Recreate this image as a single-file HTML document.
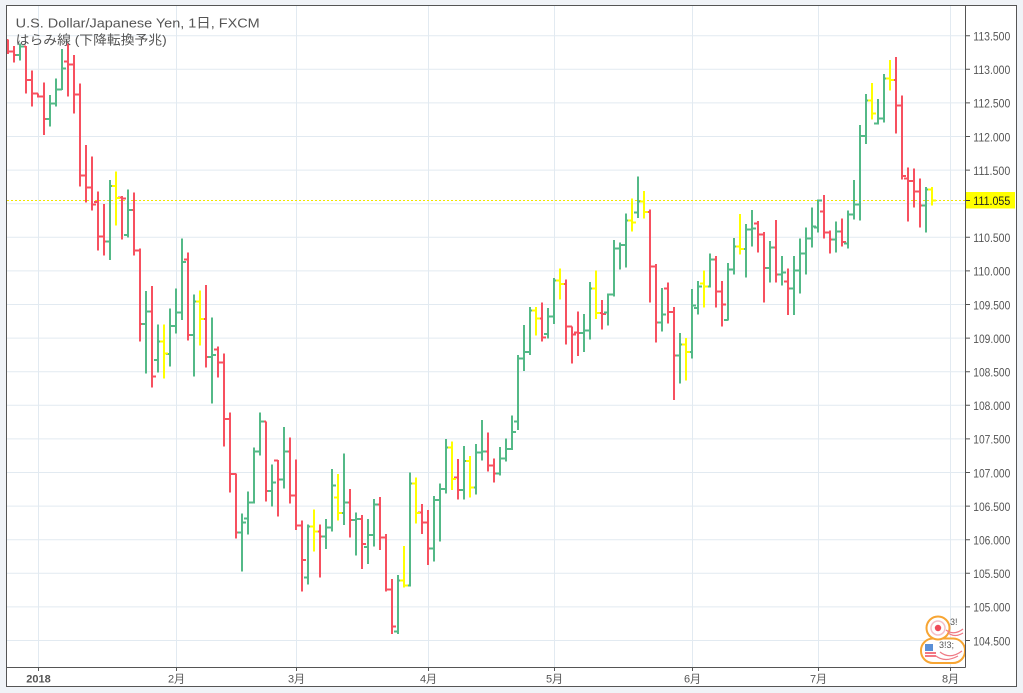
<!DOCTYPE html>
<html><head><meta charset="utf-8">
<style>
html,body{margin:0;padding:0;background:#f0f3f7;}
svg{display:block;}
</style></head>
<body>
<svg width="1023" height="693" viewBox="0 0 1023 693" xmlns="http://www.w3.org/2000/svg">
<defs>
<clipPath id="plot"><rect x="7" y="6" width="958" height="661"/></clipPath>
</defs>
<rect x="0" y="0" width="1023" height="693" fill="#f0f3f7"/>
<rect x="6.5" y="5.5" width="1010" height="681" fill="#ffffff" stroke="#555555" stroke-width="1"/>

<g stroke="#e2eaf1" stroke-width="1" fill="none">
<path d="M7 35.7H965M7 69.3H965M7 102.9H965M7 136.5H965M7 170.1H965M7 203.7H965M7 237.3H965M7 270.9H965M7 304.5H965M7 338.1H965M7 371.7H965M7 405.3H965M7 438.9H965M7 472.5H965M7 506.1H965M7 539.7H965M7 573.3H965M7 606.9H965M7 640.5H965"/>
<path d="M38.5 6V667M176.5 6V667M296.5 6V667M428.5 6V667M554.5 6V667M692.5 6V667M818.5 6V667M950.5 6V667"/>
</g>

<line x1="7" y1="200.5" x2="965" y2="200.5" stroke="#f2e600" stroke-width="1" stroke-dasharray="2,2"/>

<g clip-path="url(#plot)" fill="none" stroke-width="2" stroke-linecap="butt">
<path stroke="#f7505f" d="M8 39.5V54M4 40H8M8 51.5H12M14 46V62.5M10 51.5H14M14 55H18M26 46V93.5M22 46.5H26M26 80H30M32 70.5V106.5M28 80H32M32 93.5H36M38 93.5V97.5M34 93.5H38M38 96.5H42M44 82.5V135M40 96.5H44M44 119H48M68 43.5V96.5M64 61.5H68M68 64.5H72M74 55V113.5M70 64.5H74M74 94.5H78M80 83.5V186.5M76 94.5H80M80 175.5H84M86 145V202.5M82 175.5H86M86 187.5H90M92 156.5V210.5M88 187.5H92M92 204.5H96M98 191.5V250.5M94 202H98M98 236.5H102M104 204V255.5M100 236.5H104M104 241.5H108M122 196V239.5M118 197.5H122M122 198.5H126M134 192.5V255.5M130 210H134M134 250.5H138M140 248.5V341.5M136 250.5H140M140 324H144M152 286V387.5M148 311.5H152M152 376.5H156M188 252.5V340.5M184 259.5H188M188 335H192M206 285V367.5M202 319H206M206 357H210M218 346.5V377.5M214 349.5H218M218 362.5H222M224 353.5V446.5M220 362.5H224M224 419H228M230 412.5V492.5M226 419H230M230 474H234M236 473.5V538.5M232 474H236M236 532.5H240M266 421.5V501.5M262 421.5H266M266 491H270M278 460V516.5M274 460.5H278M278 479.5H282M290 437.5V503.5M286 451.5H290M290 495.5H294M296 459.5V530M292 495.5H296M296 525.5H300M302 520.5V591.5M298 525.5H302M302 560H306M320 524.5V577.5M316 531.5H320M320 536.5H324M350 489V537.5M346 502.5H350M350 520H354M362 515V569M358 519H362M362 544H366M380 497V550M376 504.5H380M380 537.5H384M386 534V591.5M382 537.5H386M386 589.5H390M392 579V634M388 589.5H392M392 626.5H396M422 504V534M418 512.5H422M422 522.5H426M428 510V565M424 522.5H428M428 548.5H432M458 459V499.5M454 477.5H458M458 490H462M488 432.5V471.5M484 451.5H488M488 465.5H492M494 458.5V482.5M490 465.5H494M494 473.5H498M542 302.5V341.5M538 318.5H542M542 337.5H546M566 279.5V344.5M562 284H566M566 326.5H570M572 326.5V363.5M568 326.5H572M572 334.5H576M578 311.5V356M574 332.5H578M578 333H582M602 300V329.5M598 313H602M602 314H606M650 209.5V302.5M646 212H650M650 266.5H654M656 264V342.5M652 266.5H656M656 322.5H660M668 282.5V323.5M664 288.5H668M668 312H672M674 307V400M670 312H674M674 355.5H678M716 256V307.5M712 259.5H716M716 291.5H720M722 281V326.5M718 291.5H722M722 304.5H726M758 221V252.5M754 223.5H758M758 234.5H762M764 232V302.5M760 234.5H764M764 268H768M776 220V282.5M772 247.5H776M776 274.5H780M788 268.5V315M784 281.5H788M788 288.5H792M824 195V238.5M820 211.5H824M824 232.5H828M830 230.5V253.5M826 232.5H830M830 239.5H834M842 218.5V246.5M838 231.5H842M842 242H846M896 57V133.5M892 80H896M896 105.5H900M902 95.5V179.5M898 105.5H902M902 176H906M908 167.5V221.5M904 178.5H908M908 181H912M914 168.5V207.5M910 181H914M914 191.5H918M920 178.5V227.5M916 191.5H920M920 205.5H924"/>
<path stroke="#53b987" d="M20 43.5V60.5M16 55H20M20 46.5H24M50 95V126.5M46 119H50M50 103.5H54M56 78.5V106.5M52 103.5H56M56 89.5H60M62 49V90M58 89.5H62M62 68.5H66M110 180V260M106 241.5H110M110 186H114M128 189.5V237.5M124 235H128M128 210H132M146 291V373.5M142 324H146M146 311.5H150M158 324.5V372.5M154 360H158M158 341.5H162M170 308.5V366.5M166 354H170M170 326H174M176 288.5V333.5M172 326H176M176 312.5H180M182 238.5V320M178 312.5H182M182 262H186M194 294.5V376.5M190 335H194M194 301.5H198M212 317.5V403.5M208 357H212M212 355H216M242 513.5V571.5M238 532.5H242M242 522.5H246M248 491.5V534.5M244 518.5H248M248 502.5H252M254 447.5V503.5M250 502.5H254M254 451.5H258M260 412.5V455.5M256 451.5H260M260 421.5H264M272 464.5V506.5M268 491H272M272 482.5H276M284 427V488.5M280 479.5H284M284 451.5H288M308 524.5V584.5M304 577.5H308M308 526.5H312M326 519V549M322 536.5H326M326 527.5H330M332 469V531.5M328 527.5H332M332 485.5H336M344 453.5V525M340 513H344M344 502.5H348M356 512.5V555.5M352 520H356M356 519H360M368 519V564M364 547H368M368 535H372M374 499V546.5M370 535H374M374 504.5H378M398 575V634M394 631.5H398M398 580.5H402M410 472.5V586.5M406 585.5H410M410 483.5H414M434 496V561.5M430 548.5H434M434 500H438M440 483.5V541.5M436 500H440M440 489H444M446 439V493.5M442 489H446M446 447.5H450M464 446V499.5M460 490H464M464 461H468M476 444V494.5M472 487.5H476M476 452.5H480M482 420V460.5M478 452.5H482M482 451.5H486M500 447V475.5M496 473.5H500M500 458.5H504M506 438.5V461.5M502 458.5H506M506 449H510M512 415.5V450M508 449H512M512 432H516M518 355V430M514 421.5H518M518 358.5H522M524 325V371M520 358.5H524M524 352H528M530 307V355M526 352H530M530 310.5H534M548 308V338.5M544 334H548M548 316.5H552M554 278V324M550 316.5H554M554 280.5H558M584 314V352M580 333H584M584 330.5H588M590 282V339.5M586 330.5H590M590 288.5H594M608 293.5V325.5M604 312.5H608M608 294.5H612M614 240V296.5M610 294.5H614M614 248.5H618M620 242.5V269.5M616 248.5H620M620 245H624M626 213.5V267.5M622 245H626M626 220.5H630M638 176.5V218M634 212.5H638M638 201.5H642M662 288V331.5M658 322.5H662M662 314.5H666M680 333V383.5M676 355.5H680M680 344.5H684M692 289V358.5M688 352H692M692 305.5H696M698 281V314.5M694 308H698M698 286.5H702M710 253.5V287.5M706 286.5H710M710 259.5H714M728 263V320.5M724 320H728M728 269.5H732M734 238V274.5M730 269.5H734M734 246.5H738M746 224V277.5M742 249H746M746 229.5H750M752 210V246.5M748 229.5H752M752 228.5H756M770 241V282.5M766 268H770M770 247.5H774M782 256V285.5M778 274.5H782M782 272.5H786M794 256V315M790 288.5H794M794 270.5H798M800 238.5V293.5M796 270.5H800M800 253.5H804M806 227.5V274.5M802 253.5H806M806 238.5H810M812 207.5V247.5M808 238.5H812M812 226.5H816M818 199.5V232.5M814 227.5H818M818 200.5H822M836 221.5V252.5M832 239.5H836M836 231.5H840M848 210.5V248.5M844 243.5H848M848 214.5H852M854 180V219.5M850 214.5H854M854 204.5H858M860 125V220.5M856 204.5H860M860 136H864M866 94V144M862 136H866M866 100.5H870M878 99V124.5M874 123.5H878M878 118.5H882M884 74V122.5M880 118.5H884M884 78.5H888M926 187V232.5M922 205.5H926M926 189.5H930"/>
<path stroke="#ffff00" d="M116 171.5V225.5M112 186H116M116 198H120M164 324.5V378.5M160 341.5H164M164 353.5H168M200 290.5V345.5M196 301.5H200M200 319H204M314 509.5V551.5M310 526.5H314M314 531.5H318M338 474V520.5M334 497.5H338M338 513H342M404 546V587.5M400 580.5H404M404 585.5H408M416 477.5V523.5M412 483.5H416M416 513H420M452 441.5V490M448 447.5H452M452 479H456M470 456V497.5M466 461H470M470 487.5H474M536 307V335.5M532 310.5H536M536 318.5H540M560 268.5V299.5M556 280.5H560M560 284H564M596 270.5V319M592 288.5H596M596 313H600M632 198.5V231.5M628 220.5H632M632 222.5H636M644 191V218.5M640 201.5H644M644 212H648M686 338V380.5M682 344.5H686M686 352H690M704 270.5V307.5M700 283.5H704M704 286.5H708M740 214V254.5M736 246.5H740M740 249H744M872 83V119.5M868 100.5H872M872 113.5H876M890 60V90.5M886 78.5H890M890 80H894M932 187V205.5M928 189.5H932M932 200.5H936"/>

<!-- event icons -->
<g>
<rect x="921" y="638.5" width="44" height="24.5" rx="12" fill="#ffffff" stroke="#f7a533" stroke-width="2"/>
<rect x="925" y="644" width="11" height="13" fill="#ffffff"/>
<rect x="925" y="644" width="8" height="7" fill="#5b8fd6"/>
<path d="M925 653H936M925 656H936" stroke="#ef4a5a" stroke-width="1.5"/>
<path d="M936 656Q945 663 958 656M940 652Q950 660 962 651" stroke="#ef7a85" stroke-width="1.2" fill="none"/>
<text x="939" y="648" font-family="Liberation Sans, sans-serif" font-size="9" fill="#555">3!3;</text>
<circle cx="938" cy="628" r="11.5" fill="#ffffff" stroke="#f7a533" stroke-width="2"/>
<circle cx="938" cy="628" r="7" fill="none" stroke="#f6c0c8" stroke-width="1.5"/>
<circle cx="938" cy="628" r="3.2" fill="#ef4a5a"/>
<path d="M946 630Q954 636 963 629M948 633Q955 638 963 633" stroke="#ef7a85" stroke-width="1.2" fill="none"/>
<text x="950" y="625" font-family="Liberation Sans, sans-serif" font-size="9" fill="#555">3!</text>
</g>
</g>

<!-- axis lines -->
<path d="M965.5 5V667.5M6 667.5H965.5" stroke="#555555" stroke-width="1" fill="none"/>
<path d="M965 35.7H970M965 69.3H970M965 102.9H970M965 136.5H970M965 170.1H970M965 200.5H970M965 237.3H970M965 270.9H970M965 304.5H970M965 338.1H970M965 371.7H970M965 405.3H970M965 438.9H970M965 472.5H970M965 506.1H970M965 539.7H970M965 573.3H970M965 606.9H970M965 640.5H970" stroke="#555555" stroke-width="1"/>
<path d="M38.5 667V671M176.5 667V671M296.5 667V671M428.5 667V671M554.5 667V671M692.5 667V671M818.5 667V671M950.5 667V671" stroke="#555555" stroke-width="1"/>

<g font-family="Liberation Sans, sans-serif" font-size="11.5" fill="#555555">
<text x="973.3" y="40.5" textLength="37" lengthAdjust="spacingAndGlyphs">113.500</text>
<text x="973.3" y="74.1" textLength="37" lengthAdjust="spacingAndGlyphs">113.000</text>
<text x="973.3" y="107.7" textLength="37" lengthAdjust="spacingAndGlyphs">112.500</text>
<text x="973.3" y="141.3" textLength="37" lengthAdjust="spacingAndGlyphs">112.000</text>
<text x="973.3" y="174.9" textLength="37" lengthAdjust="spacingAndGlyphs">111.500</text>
<text x="973.3" y="242.1" textLength="37" lengthAdjust="spacingAndGlyphs">110.500</text>
<text x="973.3" y="275.7" textLength="37" lengthAdjust="spacingAndGlyphs">110.000</text>
<text x="973.3" y="309.3" textLength="37" lengthAdjust="spacingAndGlyphs">109.500</text>
<text x="973.3" y="342.9" textLength="37" lengthAdjust="spacingAndGlyphs">109.000</text>
<text x="973.3" y="376.5" textLength="37" lengthAdjust="spacingAndGlyphs">108.500</text>
<text x="973.3" y="410.1" textLength="37" lengthAdjust="spacingAndGlyphs">108.000</text>
<text x="973.3" y="443.7" textLength="37" lengthAdjust="spacingAndGlyphs">107.500</text>
<text x="973.3" y="477.3" textLength="37" lengthAdjust="spacingAndGlyphs">107.000</text>
<text x="973.3" y="510.9" textLength="37" lengthAdjust="spacingAndGlyphs">106.500</text>
<text x="973.3" y="544.5" textLength="37" lengthAdjust="spacingAndGlyphs">106.000</text>
<text x="973.3" y="578.1" textLength="37" lengthAdjust="spacingAndGlyphs">105.500</text>
<text x="973.3" y="611.7" textLength="37" lengthAdjust="spacingAndGlyphs">105.000</text>
<text x="973.3" y="645.3" textLength="37" lengthAdjust="spacingAndGlyphs">104.500</text>
</g>

<rect x="966" y="192" width="49" height="16.5" fill="#ffff00"/>
<path d="M966 200.5H970" stroke="#333" stroke-width="1"/>
<text x="973.3" y="205" font-family="Liberation Sans, sans-serif" font-size="11.5" fill="#222222" textLength="37" lengthAdjust="spacingAndGlyphs">111.055</text>

<g font-family="Liberation Sans, 'Noto Sans CJK JP', sans-serif" font-size="11" fill="#555555" text-anchor="middle">
<text x="38.5" y="682.3" font-weight="bold">2018</text>
<text x="176.5" y="682.3">2月</text>
<text x="296.5" y="682.3">3月</text>
<text x="428.5" y="682.3">4月</text>
<text x="554.5" y="682.3">5月</text>
<text x="692.5" y="682.3">6月</text>
<text x="818.5" y="682.3">7月</text>
<text x="950.5" y="682.3">8月</text>
</g>

<g font-family="Liberation Sans, 'Noto Sans CJK JP', sans-serif" font-size="13" fill="#555555">
<text x="15.7" y="27.3" textLength="244" lengthAdjust="spacingAndGlyphs">U.S. Dollar/Japanese Yen, 1日, FXCM</text>
<text x="15.7" y="44.5" textLength="151" lengthAdjust="spacingAndGlyphs">はらみ線 (下降転換予兆)</text>
</g>
</svg>
</body></html>
